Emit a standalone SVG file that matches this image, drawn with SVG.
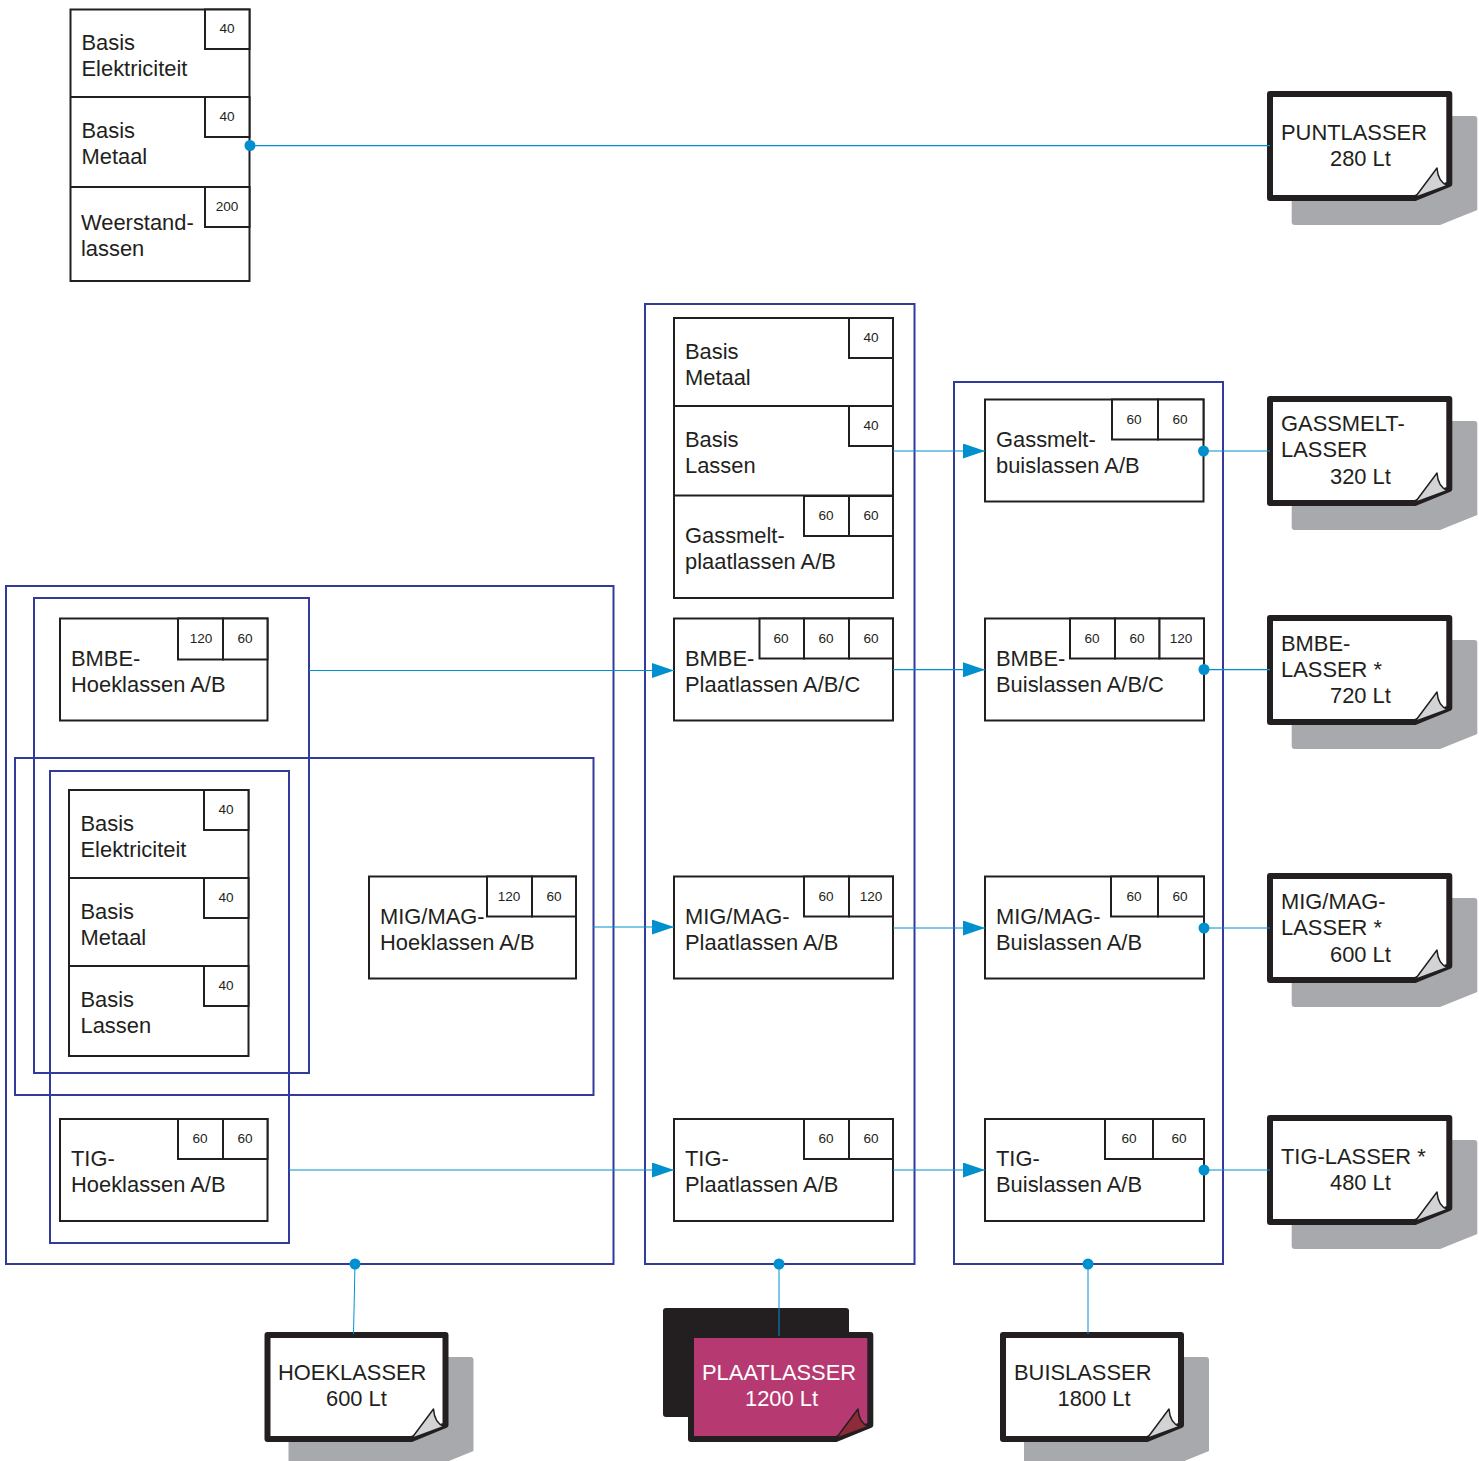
<svg xmlns="http://www.w3.org/2000/svg" xmlns:xlink="http://www.w3.org/1999/xlink" width="1479" height="1461" viewBox="0 0 1479 1461">
<style>
text{font-family:"Liberation Sans",Arial,sans-serif;fill:#231f20}
.t{font-size:21.9px}
.n{font-size:13.6px;text-anchor:middle}
.w{fill:#fff}
.box,.b{fill:#fff;stroke:#231f20;stroke-width:2}
.l{fill:none;stroke:#231f20;stroke-width:2}
.frame{fill:none;stroke:#323a9c;stroke-width:2}
.c{fill:none;stroke:#0090d0;stroke-width:1}
.c2{fill:none;stroke:#0090d0;stroke-width:1.3}
.a{marker-end:url(#arr)}
.d{fill:#0090d0}
.sh{fill:#a7a9ac}
.page{fill:#fff;stroke:#231f20;stroke-width:6;stroke-linejoin:round}
.fold{fill:#d1d3d4;stroke:#231f20;stroke-width:1.5;stroke-linejoin:round}
.page2{fill:#b63a71;stroke:#231f20;stroke-width:6;stroke-linejoin:round}
.fold2{fill:#8e2b3a;stroke:#231f20;stroke-width:1.5;stroke-linejoin:round}
</style>
<defs>
<marker id="arr" markerUnits="userSpaceOnUse" markerWidth="23" markerHeight="16" refX="22" refY="7.5" orient="auto"><path d="M0 0L22 7.5L0 15Z" fill="#0090d0"/></marker>
<path id="shadow" d="M24.700 22H204.300Q207.300 22 207.300 25V116L170 131H24.700Q21.700 131 21.700 128V25Q21.700 22 24.700 22Z"/>
<path id="page" d="M0 0H179.300V90L145 104H0Z"/>
<path id="foldp" d="M145 103.500L167 74Q168 88 177.500 91.500Z"/>
<path id="shadowb" d="M24 22H203Q206 22 206 25V116L169 131H24Q21 131 21 128V25Q21 22 24 22Z"/>
<path id="pageb" d="M0 0H178V90L144 104H0Z"/>
<path id="foldb" d="M144 103.500L166 74Q167 88 176.500 91.500Z"/>
</defs>

<g id="frames">
<rect class="frame" x="6" y="586" width="607.500" height="678"/>
<rect class="frame" x="34" y="598" width="275" height="475"/>
<rect class="frame" x="15" y="758" width="578.500" height="337"/>
<rect class="frame" x="50" y="771" width="239" height="472"/>
<rect class="frame" x="645" y="304" width="269.500" height="960"/>
<rect class="frame" x="954" y="382" width="269" height="882"/>
</g>

<g id="stack-puntlasser">
<rect class="box" x="70.500" y="9.500" width="179" height="271.500"/>
<path class="l" d="M70 97H250M70 187H250"/>
<rect class="b" x="205" y="9.500" width="44.500" height="39.500"/><rect class="b" x="205" y="97" width="44.500" height="40"/><rect class="b" x="205" y="187" width="44.500" height="40"/>
<text class="n" x="227" y="33">40</text><text class="n" x="227" y="121">40</text><text class="n" x="227" y="211">200</text>
<text class="t" x="81.500" y="50">Basis</text><text class="t" x="81.500" y="76">Elektriciteit</text>
<text class="t" x="81.500" y="138">Basis</text><text class="t" x="81.500" y="164">Metaal</text>
<text class="t" x="81" y="230">Weerstand-</text><text class="t" x="81" y="256">lassen</text>
</g>

<g id="stack-plaat">
<rect class="box" x="674" y="318" width="219" height="280"/>
<path class="l" d="M674 406H893M674 495.500H893"/>
<rect class="b" x="849" y="318" width="44" height="40"/><rect class="b" x="849" y="406" width="44" height="40"/>
<rect class="b" x="804" y="496" width="45" height="40"/><rect class="b" x="849" y="496" width="44" height="40"/>
<text class="n" x="871" y="342">40</text><text class="n" x="871" y="430">40</text><text class="n" x="826" y="520">60</text><text class="n" x="871" y="520">60</text>
<text class="t" x="685" y="359">Basis</text><text class="t" x="685" y="385">Metaal</text>
<text class="t" x="685" y="447">Basis</text><text class="t" x="685" y="473">Lassen</text>
<text class="t" x="685" y="543">Gassmelt-</text><text class="t" x="685" y="569">plaatlassen A/B</text>
</g>

<g id="bmbe-plaat">
<rect class="box" x="674" y="618.500" width="219" height="102"/>
<rect class="b" x="759.500" y="618.500" width="44.500" height="40"/><rect class="b" x="804" y="618.500" width="45" height="40"/><rect class="b" x="849" y="618.500" width="44" height="40"/>
<text class="n" x="781" y="643">60</text><text class="n" x="826" y="643">60</text><text class="n" x="871" y="643">60</text>
<text class="t" x="685" y="666">BMBE-</text><text class="t" x="685" y="692">Plaatlassen A/B/C</text>
</g>
<g id="mig-plaat">
<rect class="box" x="674" y="876.500" width="219" height="102"/>
<rect class="b" x="804" y="876.500" width="45" height="40"/><rect class="b" x="849" y="876.500" width="44" height="40"/>
<text class="n" x="826" y="901">60</text><text class="n" x="871" y="901">120</text>
<text class="t" x="685" y="924">MIG/MAG-</text><text class="t" x="685" y="950">Plaatlassen A/B</text>
</g>
<g id="tig-plaat">
<rect class="box" x="674" y="1119" width="219" height="102"/>
<rect class="b" x="804" y="1119" width="45" height="40"/><rect class="b" x="849" y="1119" width="44" height="40"/>
<text class="n" x="826" y="1143">60</text><text class="n" x="871" y="1143">60</text>
<text class="t" x="685" y="1166">TIG-</text><text class="t" x="685" y="1192">Plaatlassen A/B</text>
</g>

<g id="gassmelt-buis">
<rect class="box" x="985" y="399.500" width="218.500" height="102"/>
<rect class="b" x="1112" y="399.500" width="46" height="40"/><rect class="b" x="1158" y="399.500" width="45.500" height="40"/>
<text class="n" x="1134" y="424">60</text><text class="n" x="1180" y="424">60</text>
<text class="t" x="996" y="447">Gassmelt-</text><text class="t" x="996" y="473">buislassen A/B</text>
</g>
<g id="bmbe-buis">
<rect class="box" x="985" y="618.500" width="219" height="102"/>
<rect class="b" x="1070" y="618.500" width="45" height="40"/><rect class="b" x="1115" y="618.500" width="44.500" height="40"/><rect class="b" x="1159.500" y="618.500" width="44.500" height="40"/>
<text class="n" x="1092" y="643">60</text><text class="n" x="1137" y="643">60</text><text class="n" x="1181" y="643">120</text>
<text class="t" x="996" y="666">BMBE-</text><text class="t" x="996" y="692">Buislassen A/B/C</text>
</g>
<g id="mig-buis">
<rect class="box" x="985" y="876.500" width="219" height="102"/>
<rect class="b" x="1111" y="876.500" width="47" height="40"/><rect class="b" x="1158" y="876.500" width="46" height="40"/>
<text class="n" x="1134" y="901">60</text><text class="n" x="1180" y="901">60</text>
<text class="t" x="996" y="924">MIG/MAG-</text><text class="t" x="996" y="950">Buislassen A/B</text>
</g>
<g id="tig-buis">
<rect class="box" x="985" y="1119" width="219" height="102"/>
<rect class="b" x="1105" y="1119" width="48" height="40"/><rect class="b" x="1153" y="1119" width="51" height="40"/>
<text class="n" x="1129" y="1143">60</text><text class="n" x="1179" y="1143">60</text>
<text class="t" x="996" y="1166">TIG-</text><text class="t" x="996" y="1192">Buislassen A/B</text>
</g>

<g id="bmbe-hoek">
<rect class="box" x="60" y="618.500" width="207.500" height="102"/>
<rect class="b" x="178" y="618.500" width="45" height="41"/><rect class="b" x="223" y="618.500" width="44.500" height="41"/>
<text class="n" x="201" y="643">120</text><text class="n" x="245" y="643">60</text>
<text class="t" x="71" y="666">BMBE-</text><text class="t" x="71" y="692">Hoeklassen A/B</text>
</g>
<g id="mig-hoek">
<rect class="box" x="369" y="876.500" width="207" height="102"/>
<rect class="b" x="487" y="876.500" width="45" height="40"/><rect class="b" x="532" y="876.500" width="44" height="40"/>
<text class="n" x="509" y="901">120</text><text class="n" x="554" y="901">60</text>
<text class="t" x="380" y="924">MIG/MAG-</text><text class="t" x="380" y="950">Hoeklassen A/B</text>
</g>
<g id="tig-hoek">
<rect class="box" x="60" y="1119" width="207.500" height="102"/>
<rect class="b" x="178" y="1119" width="45" height="40"/><rect class="b" x="223" y="1119" width="44.500" height="40"/>
<text class="n" x="200" y="1143">60</text><text class="n" x="245" y="1143">60</text>
<text class="t" x="71" y="1166">TIG-</text><text class="t" x="71" y="1192">Hoeklassen A/B</text>
</g>
<g id="stack-hoek">
<rect class="box" x="69" y="790" width="179.500" height="266"/>
<path class="l" d="M69 878H249M69 966H249"/>
<rect class="b" x="204" y="790" width="44.500" height="40"/><rect class="b" x="204" y="878" width="44.500" height="40"/><rect class="b" x="204" y="966" width="44.500" height="40"/>
<text class="n" x="226" y="814">40</text><text class="n" x="226" y="902">40</text><text class="n" x="226" y="990">40</text>
<text class="t" x="80.500" y="831">Basis</text><text class="t" x="80.500" y="857">Elektriciteit</text>
<text class="t" x="80.500" y="919">Basis</text><text class="t" x="80.500" y="945">Metaal</text>
<text class="t" x="80.500" y="1007">Basis</text><text class="t" x="80.500" y="1033">Lassen</text>
</g>

<g id="doc-puntlasser" transform="translate(1270 94)">
<use href="#shadow" class="sh"/><use href="#page" class="page"/><use href="#foldp" class="fold"/>
<text class="t" x="11" y="46">PUNTLASSER</text><text class="t" x="60" y="72">280 Lt</text>
</g>
<g id="doc-gassmelt" transform="translate(1270 399)">
<use href="#shadow" class="sh"/><use href="#page" class="page"/><use href="#foldp" class="fold"/>
<text class="t" x="11" y="32">GASSMELT-</text><text class="t" x="11" y="58">LASSER</text><text class="t" x="60" y="85">320 Lt</text>
</g>
<g id="doc-bmbe" transform="translate(1270 618)">
<use href="#shadow" class="sh"/><use href="#page" class="page"/><use href="#foldp" class="fold"/>
<text class="t" x="11" y="33">BMBE-</text><text class="t" x="11" y="59">LASSER *</text><text class="t" x="60" y="85">720 Lt</text>
</g>
<g id="doc-mig" transform="translate(1270 876)">
<use href="#shadow" class="sh"/><use href="#page" class="page"/><use href="#foldp" class="fold"/>
<text class="t" x="11" y="33">MIG/MAG-</text><text class="t" x="11" y="59">LASSER *</text><text class="t" x="60" y="86">600 Lt</text>
</g>
<g id="doc-tig" transform="translate(1270 1118)">
<use href="#shadow" class="sh"/><use href="#page" class="page"/><use href="#foldp" class="fold"/>
<text class="t" x="11" y="46">TIG-LASSER *</text><text class="t" x="60" y="72">480 Lt</text>
</g>
<g id="doc-hoeklasser" transform="translate(267.500 1335)">
<use href="#shadowb" class="sh"/><use href="#pageb" class="page"/><use href="#foldb" class="fold"/>
<text class="t" x="10.500" y="45">HOEKLASSER</text><text class="t" x="58.500" y="71">600 Lt</text>
</g>
<g id="doc-plaatlasser" transform="translate(691 1335)">
<rect x="-28" y="-27" width="186" height="109" rx="3" fill="#231f20"/>
<use href="#page" class="page2"/><use href="#foldp" class="fold2"/>
<text class="t w" x="11" y="45">PLAATLASSER</text><text class="t w" x="54" y="71">1200 Lt</text>
</g>
<g id="doc-buislasser" transform="translate(1003 1335)">
<use href="#shadowb" class="sh"/><use href="#pageb" class="page"/><use href="#foldb" class="fold"/>
<text class="t" x="11" y="45">BUISLASSER</text><text class="t" x="54.500" y="71">1800 Lt</text>
</g>

<g id="connectors">
<path class="c2" d="M250 145.700H1270"/>
<path class="c a" d="M893 451H985"/>
<path class="c" d="M1203 451H1270"/>
<path class="c a" d="M309 670.500H674"/>
<path class="c2 a" d="M893 669.700H985"/>
<path class="c2" d="M1204 669.700H1270"/>
<path class="c a" d="M593 927H674"/>
<path class="c a" d="M893 928H985"/>
<path class="c" d="M1204 928H1270"/>
<path class="c a" d="M289 1170H674"/>
<path class="c a" d="M893 1170H985"/>
<path class="c" d="M1204 1170H1270"/>
<path class="c" d="M355 1264L353.500 1334"/>
<path class="c" d="M779 1264V1336"/>
<path class="c" d="M1088 1264V1334"/>
<circle class="d" cx="250" cy="145.500" r="5.500"/>
<circle class="d" cx="1203.500" cy="451" r="5.500"/>
<circle class="d" cx="1204" cy="669.500" r="5.500"/>
<circle class="d" cx="1204" cy="928" r="5.500"/>
<circle class="d" cx="1204" cy="1170" r="5.500"/>
<circle class="d" cx="355" cy="1264" r="5.500"/>
<circle class="d" cx="779" cy="1264" r="5.500"/>
<circle class="d" cx="1088" cy="1264" r="5.500"/>
</g>
</svg>
